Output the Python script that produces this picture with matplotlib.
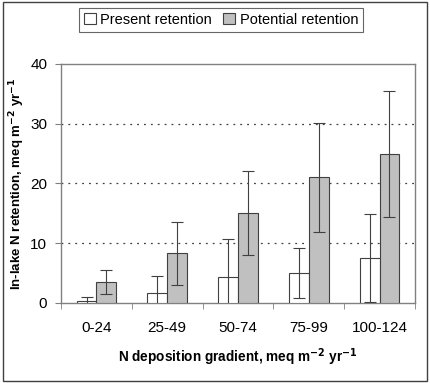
import matplotlib
matplotlib.use("Agg")
import matplotlib.pyplot as plt
from matplotlib.patches import Rectangle
import numpy as np

plt.rcParams['font.family'] = ['Liberation Sans', 'DejaVu Sans']

categories = ['0-24', '25-49', '50-74', '75-99', '100-124']
present = [0.4, 1.6, 4.3, 5.0, 7.5]
present_err = [0.6, 2.9, 6.4, 4.15, 7.4]
potential = [3.5, 8.3, 15.1, 21.0, 24.9]
potential_err = [2.0, 5.3, 7.05, 9.1, 10.5]

fig = plt.figure(figsize=(4.30, 3.83), dpi=100)
ax = fig.add_axes([0.142, 0.209, 0.823, 0.624])

x = np.arange(len(categories))
w = 0.28
ax.bar(x - w/2, present, w, color='white', edgecolor='#404040', linewidth=0.8,
       yerr=present_err, capsize=4, error_kw=dict(ecolor='#404040', elinewidth=0.8, capthick=0.8),
       label='Present retention', zorder=3)
ax.bar(x + w/2, potential, w, color='#c0c0c0', edgecolor='#404040', linewidth=0.8,
       yerr=potential_err, capsize=4, error_kw=dict(ecolor='#404040', elinewidth=0.8, capthick=0.8),
       label='Potential retention', zorder=3)

ax.set_xlim(-0.5, len(categories) - 0.5)
ax.set_ylim(0, 40)
ax.set_yticks([0, 10, 20, 30, 40])
for v in [10, 20, 30]:
    ax.axhline(v, color='#404040', linestyle=(0, (1.5, 4)), linewidth=0.9, zorder=1)

ax.set_xticks(x)
ax.set_xticklabels(categories, fontsize=11)
ax.set_xticks(np.arange(-0.5, len(categories)), minor=True)
ax.tick_params(axis='x', which='major', length=0, pad=13)
ax.tick_params(axis='x', which='minor', length=4, color='#808080')
ax.tick_params(axis='y', length=4, color='#808080', labelsize=11, pad=6)

for s in ax.spines.values():
    s.set_color('#808080')
    s.set_linewidth(1.0)

ax.set_ylabel('In-lake N retention, meq m$^{\\mathbf{-2}}$ yr$^{\\mathbf{-1}}$',
              fontsize=9.5, fontweight='bold', labelpad=2)
ax.set_xlabel('N deposition gradient, meq m$^{\\mathbf{-2}}$ yr$^{\\mathbf{-1}}$',
              fontsize=9.8, fontweight='bold', labelpad=8)

leg = fig.legend(loc='center', bbox_to_anchor=(0.514, 0.948), ncol=2, fontsize=10.5,
                 frameon=True, fancybox=False, edgecolor='#404040', handlelength=0.8,
                 handleheight=0.8, handletextpad=0.3, columnspacing=0.8,
                 borderpad=0.35)
leg.get_frame().set_linewidth(0.8)

fig.patches.append(Rectangle((0.006, 0.006), 0.988, 0.988, transform=fig.transFigure,
                             fill=False, edgecolor='#404040', linewidth=1.0))

fig.savefig('out.png', dpi=100)
